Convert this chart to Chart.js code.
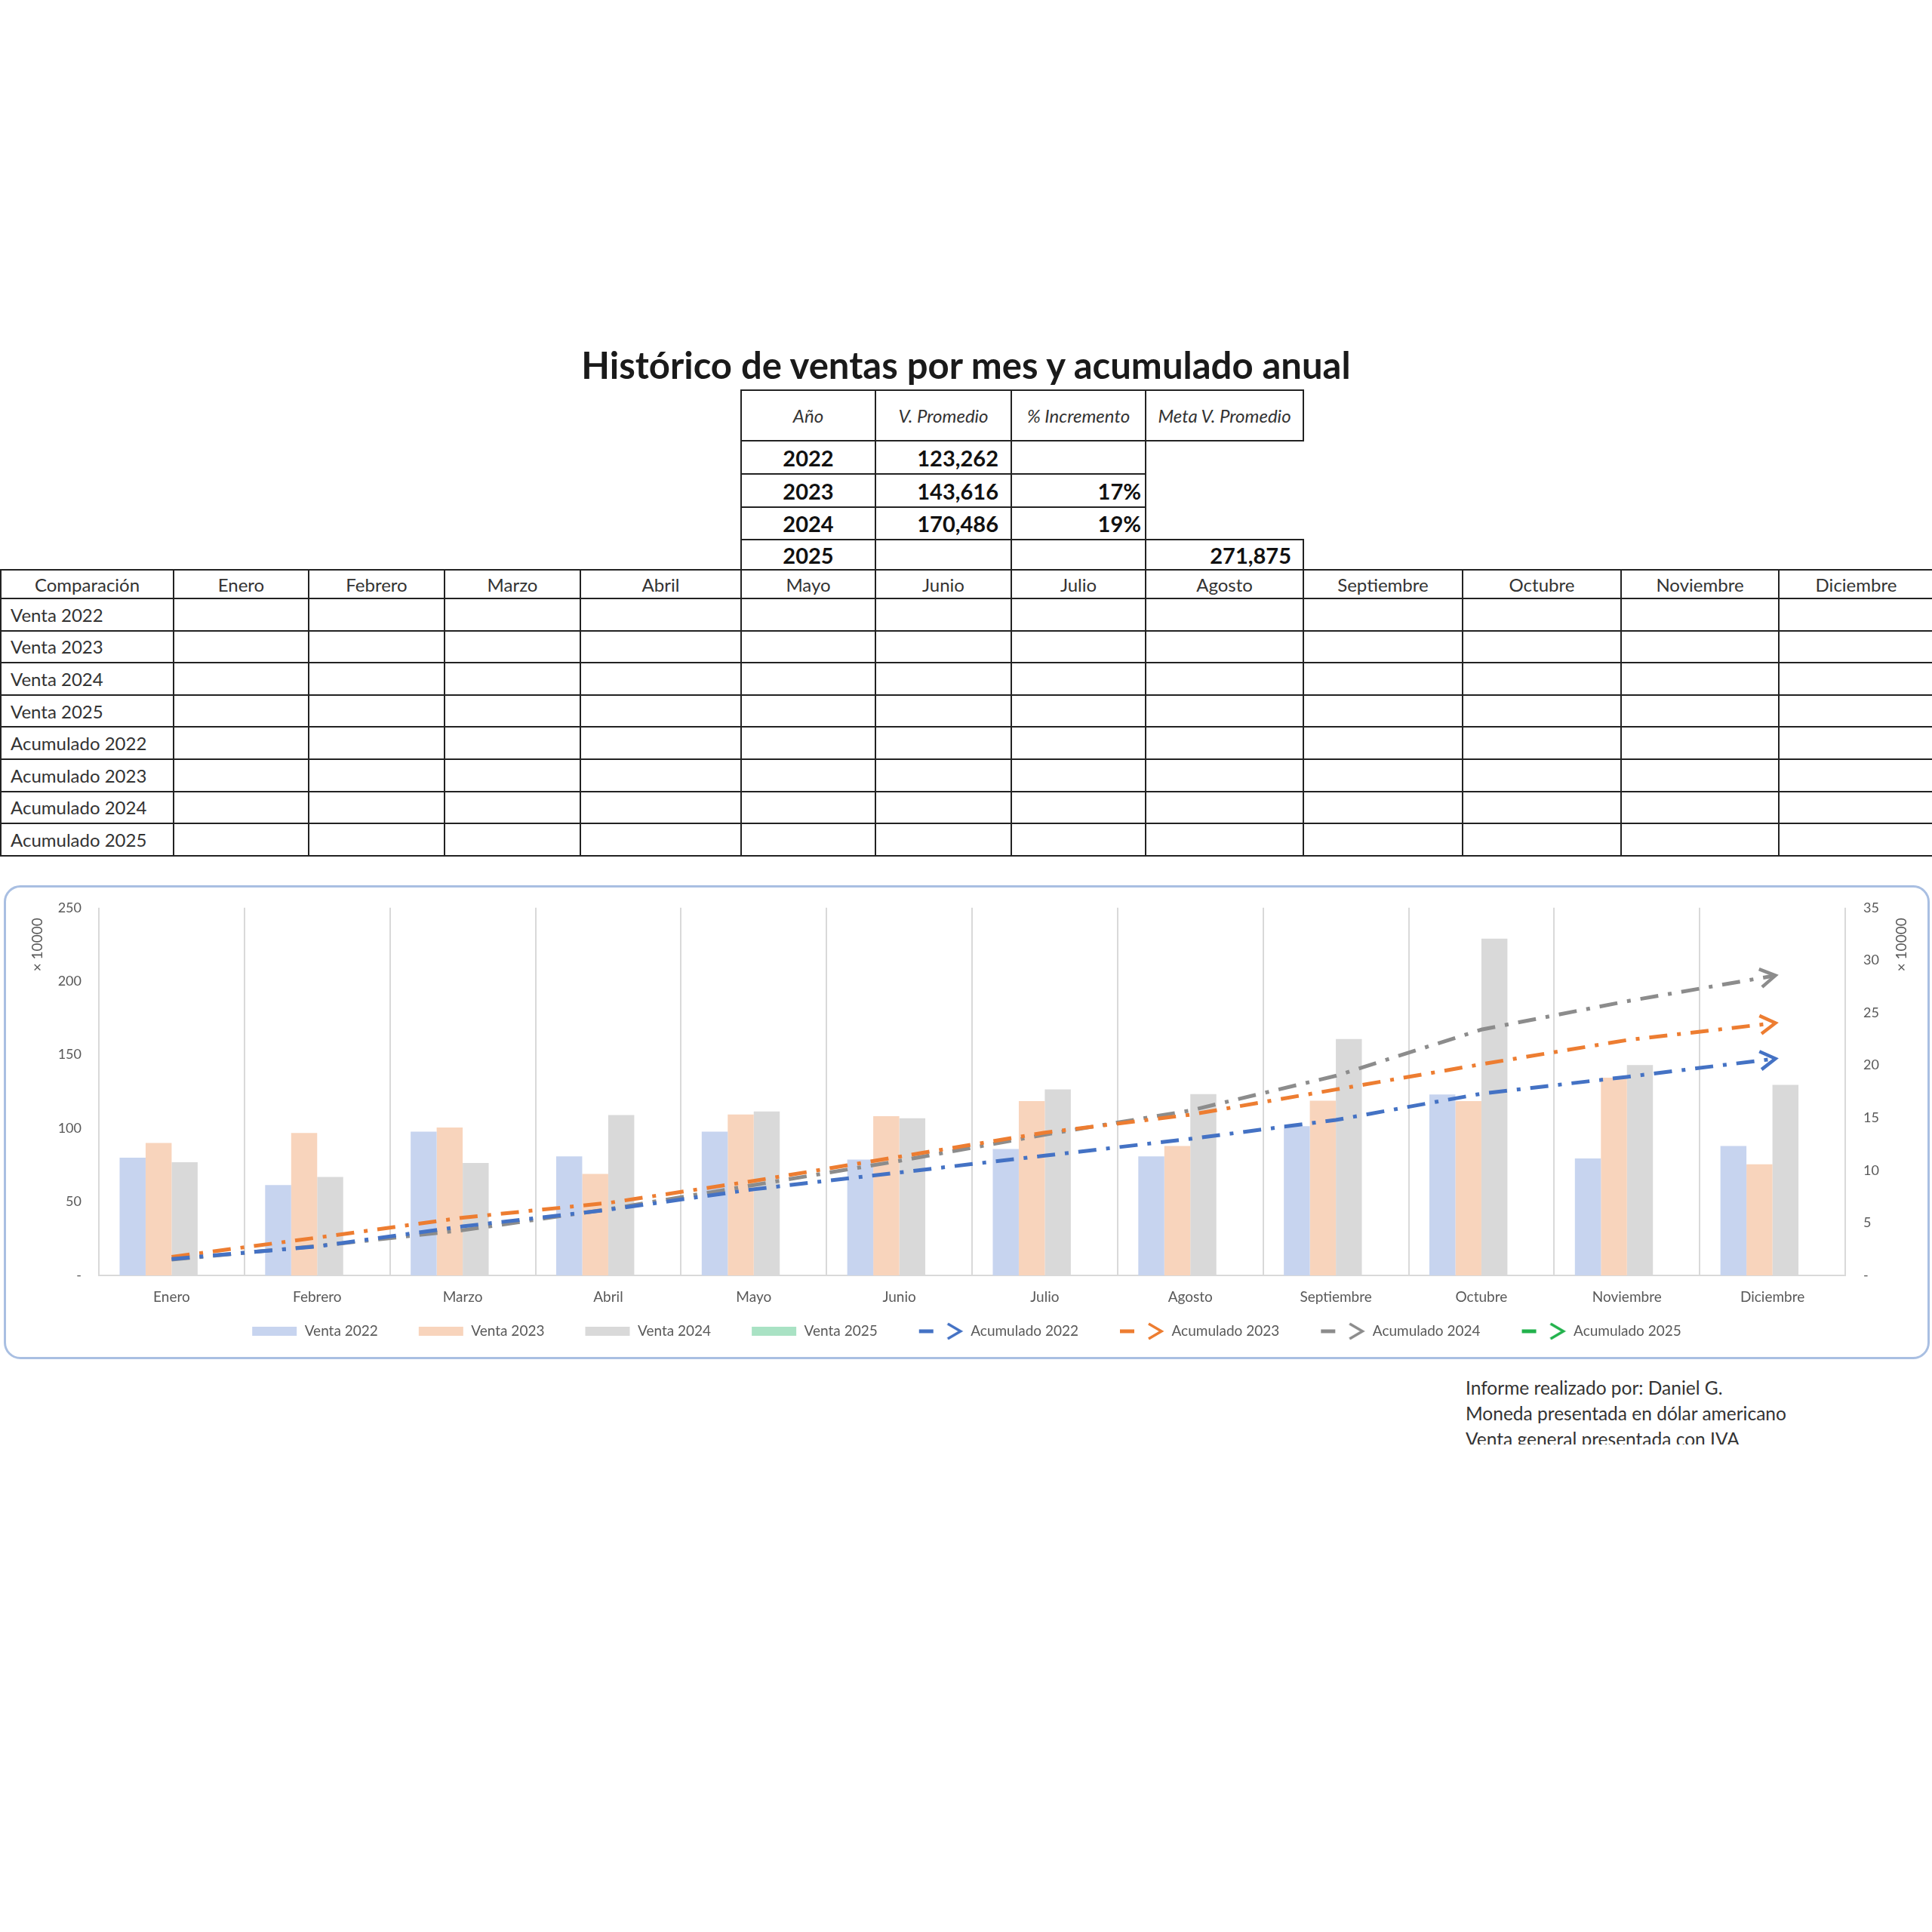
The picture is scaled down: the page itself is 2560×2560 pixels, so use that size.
<!DOCTYPE html>
<html lang="es">
<head>
<meta charset="utf-8">
<title>Histórico de ventas por mes y acumulado anual</title>
<script src="https://cdn.jsdelivr.net/npm/chart.js@4.4.1/dist/chart.umd.min.js"></script>
<style>
html, body { margin: 0; padding: 0; background: #fff; }
body { width: 2560px; height: 2560px; position: relative; overflow: hidden; font-family: Lato, "Noto Sans", sans-serif; color: #222; }
#titulo { position: absolute; left: 0; top: 451px; width: 2560px; text-align: center; font-weight: 700; font-size: 49px; line-height: 64px; color: #1a1a1a; }
table { border-collapse: collapse; table-layout: fixed; position: absolute; }
#resumen { left: 981px; top: 516px; width: 745px; }
#resumen td { border: 2px solid #222; font-size: 29px; font-weight: 700; padding: 0 8px; color: #111; }
#resumen tr.cab td { font-size: 24px; font-weight: 400; font-style: italic; text-align: center; color: #333; padding: 0 2px; }
#resumen td.anio { text-align: center; }
#resumen td.prom { text-align: right; padding-right: 16px; }
#resumen td.inc { text-align: right; padding-right: 5px; }
#resumen td.meta { text-align: right; padding-right: 15px; }
#resumen td.vacio { border-top: none; border-bottom: none; border-right: none; }
#comparacion { left: 0; top: 754px; width: 2560px; }
#comparacion td { border: 2px solid #222; font-size: 24px; color: #333; padding: 0 12px; height: 42.6px; box-sizing: border-box; }
#comparacion tr.cab td { text-align: center; height: 38px; }
#comparacion td:last-child { border-right: none; }
#marco { position: absolute; left: 5px; top: 1173px; width: 2552px; height: 628px; border: 3px solid #a9bfe2; border-radius: 22px; box-sizing: border-box; background: #fff; overflow: hidden; }
#marco canvas { display: block; }
#nota { position: absolute; left: 1942px; top: 1822px; width: 610px; height: 92px; overflow: hidden; font-size: 24.5px; line-height: 34px; color: #333; }
</style>
</head>
<body>
<div id="titulo">Histórico de ventas por mes y acumulado anual</div>
<table id="resumen">
  <colgroup><col style="width:178px"><col style="width:180px"><col style="width:178px"><col style="width:209px"></colgroup>
  <tbody id="resumenCuerpo"></tbody>
</table>
<table id="comparacion">
  <colgroup id="compCols"></colgroup>
  <tbody id="compCuerpo"></tbody>
</table>
<div id="marco"><canvas id="grafico" width="2546" height="622"></canvas></div>
<div id="nota">Informe realizado por: Daniel G.<br>Moneda presentada en dólar americano<br>Venta general presentada con IVA</div>

<script>
// Datos (ventas en unidades de 10000)
const MESES = ['Enero', 'Febrero', 'Marzo', 'Abril', 'Mayo', 'Junio', 'Julio', 'Agosto', 'Septiembre', 'Octubre', 'Noviembre', 'Diciembre'];

const venta2022 = [80, 61.5, 97.7, 81, 97.7, 78.8, 86, 81, 101.5, 123, 79.6, 88];
const venta2023 = [90, 96.9, 100.6, 69, 109.4, 108.3, 118.5, 88, 118.8, 118.5, 134.4, 75.6];
const venta2024 = [77, 67, 76.5, 109, 111.5, 106.9, 126.5, 123.3, 160.8, 229, 143, 129.6];
const venta2025 = [null, null, null, null, null, null, null, null, null, null, null, null];

const acumulado2022 = [1.56, 2.76, 4.67, 6.25, 8.2, 9.8, 11.4, 13.0, 14.8, 17.3, 18.9, 20.6];
const acumulado2023 = [1.76, 3.6, 5.5, 6.9, 9.0, 11.3, 13.6, 15.3, 17.7, 20.1, 22.4, 24.0];
const acumulado2024 = [1.5, 2.8, 4.3, 6.3, 8.6, 10.9, 13.4, 15.7, 19.0, 23.4, 26.1, 28.5];
const acumulado2025 = [null, null, null, null, null, null, null, null, null, null, null, null];

const ANIOS      = ['2022', '2023', '2024', '2025'];
const PROMEDIOS  = ['123,262', '143,616', '170,486', ''];
const INCREMENTO = ['', '17%', '19%', ''];
const META       = '271,875';

const FILAS = ['Venta 2022', 'Venta 2023', 'Venta 2024', 'Venta 2025', 'Acumulado 2022', 'Acumulado 2023', 'Acumulado 2024', 'Acumulado 2025'];
const ANCHOS_COL = [229, 179, 180, 180, 213, 178, 180, 178, 209, 211, 210, 209, 204];

// Tabla resumen
let html = '<tr class="cab" style="height:67px"><td>Año</td><td>V. Promedio</td><td>% Incremento</td><td>Meta V. Promedio</td></tr>';
const altos = [44, 44, 43, 40];
ANIOS.forEach((a, i) => {
    const ultima = i === ANIOS.length - 1;
    html += '<tr style="height:' + altos[i] + 'px"><td class="anio">' + a + '</td><td class="prom">' + PROMEDIOS[i] + '</td><td class="inc">' + INCREMENTO[i] + '</td>' +
        (ultima ? '<td class="meta">' + META + '</td>' : '<td class="vacio"></td>') + '</tr>';
});
document.getElementById('resumenCuerpo').innerHTML = html;

// Tabla de comparación (vacía)
document.getElementById('compCols').innerHTML = ANCHOS_COL.map(w => '<col style="width:' + w + 'px">').join('');
let filas = '<tr class="cab"><td>Comparación</td>' + MESES.map(m => '<td>' + m + '</td>').join('') + '</tr>';
FILAS.forEach(f => {
    filas += '<tr><td>' + f + '</td>' + MESES.map(() => '<td></td>').join('') + '</tr>';
});
document.getElementById('compCuerpo').innerHTML = filas;

// Iconos de la leyenda (con margen transparente a la izquierda para separar elementos)
const PAD = 34;
const ANCHO_ICONO = PAD + 60;

function iconoBarra(color){
    const c = document.createElement('canvas');
    c.width = ANCHO_ICONO; c.height = 12;
    const g = c.getContext('2d');
    g.fillStyle = color;
    g.fillRect(PAD, 0, 59, 12);
    return c;
};

function iconoLinea(color){
    const c = document.createElement('canvas');
    c.width = ANCHO_ICONO; c.height = 26;
    const g = c.getContext('2d');
    g.strokeStyle = color;
    g.lineWidth = 5;
    g.beginPath(); g.moveTo(PAD + 1, 13); g.lineTo(PAD + 20, 13); g.stroke();
    g.lineWidth = 3.5;
    g.beginPath(); g.moveTo(PAD + 39, 3); g.lineTo(PAD + 56, 13); g.lineTo(PAD + 39, 23); g.stroke();
    return c;
};

const COLORES = {
    v22: '#c7d4ef', v23: '#f8d4bc', v24: '#d9d9d9', v25: '#a9e2c4',
    a22: '#4472c4', a23: '#ed7d31', a24: '#8c8c8c', a25: '#22b24c'
};
const ICONOS = [
    iconoBarra(COLORES.v22), iconoBarra(COLORES.v23), iconoBarra(COLORES.v24), iconoBarra(COLORES.v25),
    iconoLinea(COLORES.a22), iconoLinea(COLORES.a23), iconoLinea(COLORES.a24), iconoLinea(COLORES.a25)
];

// Flecha al final de cada línea acumulada
const flechas = {
    id: 'flechas',
    afterDatasetsDraw(chart){
        const ctx = chart.ctx;
        chart.data.datasets.forEach((ds, i) => {
            if (ds.type !== 'line') return;
            const meta = chart.getDatasetMeta(i);
            const pts = meta.data.filter((p, k) => ds.data[k] != null);
            if (pts.length < 2) return;
            const a = pts[pts.length - 2];
            const b = pts[pts.length - 1];
            const ang = Math.atan2(b.y - a.y, b.x - a.x);
            ctx.save();
            ctx.translate(b.x, b.y);
            ctx.rotate(ang);
            ctx.strokeStyle = ds.borderColor;
            ctx.lineWidth = 4.5;
            ctx.beginPath();
            ctx.moveTo(-16, -12); ctx.lineTo(4, 0); ctx.lineTo(-16, 12);
            ctx.stroke();
            ctx.restore();
        });
    }
};

// Texto "× 10000" en ambos ejes
const unidades = {
    id: 'unidades',
    afterDraw(chart){
        const ctx = chart.ctx;
        const area = chart.chartArea;
        ctx.save();
        ctx.font = '19px Lato';
        ctx.fillStyle = '#595959';
        ctx.textAlign = 'center';
        ctx.textBaseline = 'middle';
        [[area.left - 81, area.top + 49], [area.right + 75, area.top + 49]].forEach(([x, y]) => {
            ctx.save();
            ctx.translate(x, y);
            ctx.rotate(-Math.PI / 2);
            ctx.fillText('× 10000', 0, 0);
            ctx.restore();
        });
        ctx.restore();
    }
};

Chart.defaults.font.family = 'Lato, "Noto Sans", sans-serif';
Chart.defaults.color = '#595959';

function barra(label, data, color){
    return { type: 'bar', label: label, data: data, backgroundColor: color, borderWidth: 0,
             categoryPercentage: 0.715, barPercentage: 1, yAxisID: 'y', order: 2 };
};

function linea(label, data, color){
    return { type: 'line', label: label, data: data, borderColor: color, backgroundColor: color,
             borderWidth: 5, borderDash: [24, 13, 5, 13], pointRadius: 0, tension: 0,
             fill: false, yAxisID: 'y1', order: 1 };
};

const grafico = new Chart(document.getElementById('grafico'), {
    data: {
        labels: MESES,
        datasets: [
            barra('Venta 2022', venta2022, COLORES.v22),
            barra('Venta 2023', venta2023, COLORES.v23),
            barra('Venta 2024', venta2024, COLORES.v24),
            barra('Venta 2025', venta2025, COLORES.v25),
            linea('Acumulado 2022', acumulado2022, COLORES.a22),
            linea('Acumulado 2023', acumulado2023, COLORES.a23),
            linea('Acumulado 2024', acumulado2024, COLORES.a24),
            linea('Acumulado 2025', acumulado2025, COLORES.a25)
        ]
    },
    options: {
        responsive: false,
        devicePixelRatio: 1,
        animation: false,
        events: [],
        layout: { padding: { top: 13, bottom: 14.5, left: 0, right: 34 } },
        plugins: {
            tooltip: { enabled: false },
            legend: {
                position: 'bottom',
                labels: {
                    usePointStyle: true,
                    pointStyleWidth: ANCHO_ICONO,
                    padding: 20,
                    color: '#595959',
                    font: { size: 19 },
                    sort: (a, b) => a.datasetIndex - b.datasetIndex,
                    generateLabels: (chart) => {
                        const items = Chart.defaults.plugins.legend.labels.generateLabels(chart);
                        items.forEach(it => { it.pointStyle = ICONOS[it.datasetIndex]; });
                        return items;
                    }
                }
            }
        },
        scales: {
            x: {
                grid: { color: '#d9d9d9', lineWidth: 2, drawTicks: false, offset: true },
                border: { color: '#d9d9d9', width: 2 },
                ticks: { color: '#595959', font: { size: 19 }, padding: 17, maxRotation: 0, autoSkip: false },
                afterFit: (s) => { s.height = 44.5; }
            },
            y: {
                position: 'left', min: 0, max: 250,
                grid: { display: false }, border: { display: false },
                ticks: { stepSize: 50, color: '#595959', font: { size: 18 }, padding: 15,
                         callback: (v) => v === 0 ? '-' : v },
                afterFit: (s) => { s.width = 123; }
            },
            y1: {
                position: 'right', min: 0, max: 35,
                grid: { display: false }, border: { display: false },
                ticks: { stepSize: 5, color: '#595959', font: { size: 18 }, padding: 16,
                         callback: (v) => v === 0 ? '-' : v },
                afterFit: (s) => { s.width = 75; }
            }
        }
    },
    plugins: [flechas, unidades]
});
</script>
</body>
</html>
